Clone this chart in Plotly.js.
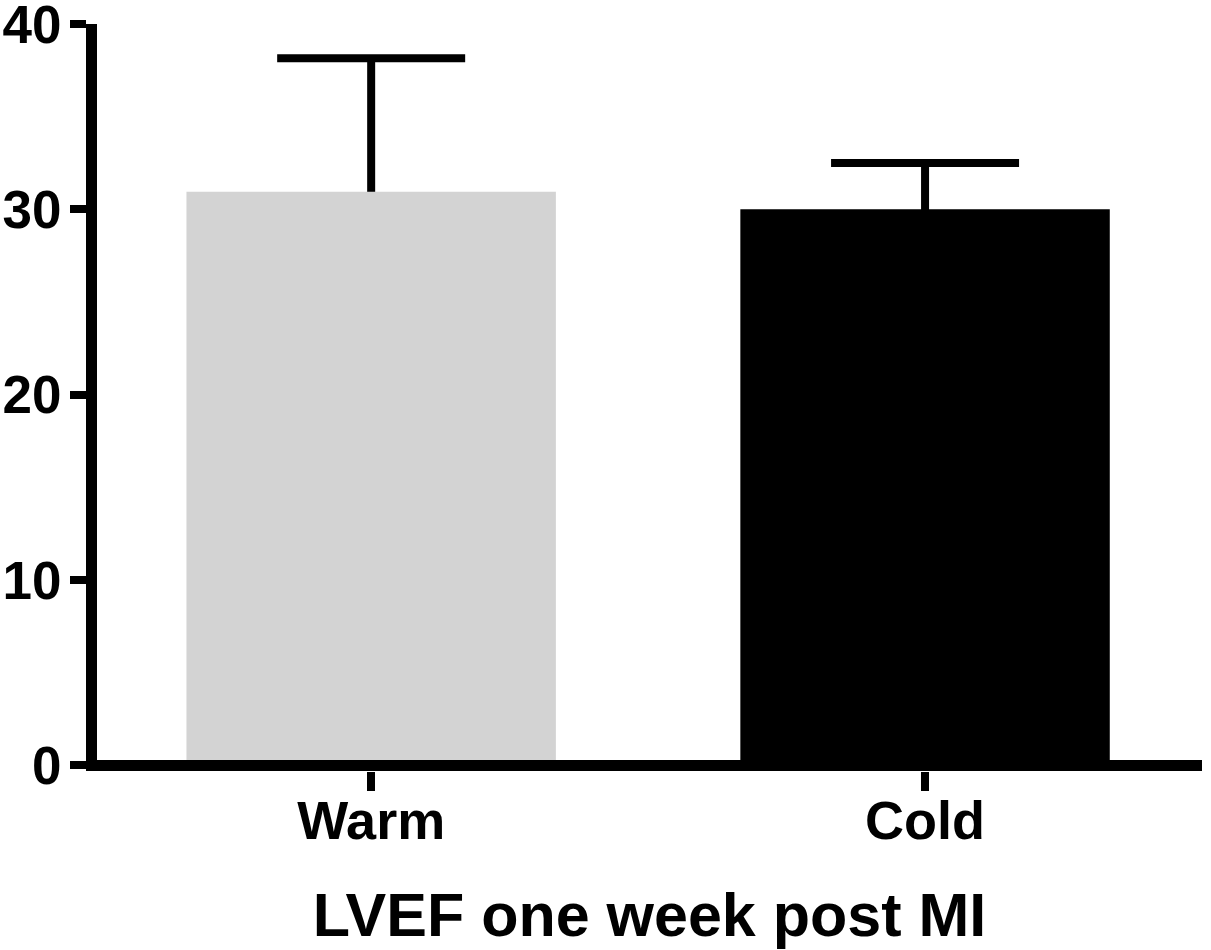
<!DOCTYPE html>
<html>
<head>
<meta charset="utf-8">
<script src="https://cdn.plot.ly/plotly-3.0.1.min.js"></script>
<style>
  body { margin: 0; background: #fff; }
  #plot { width: 1211px; height: 950px; }
</style>
</head>
<body>
<div id="plot"></div>
<script>
// values
var groups = ["Warm", "Cold"];
var lvef = [30.95, 30.0];
var errUp = [7.2, 2.5];
var barColors = ["#d3d3d3", "#000000"];
var yTicks = [0, 10, 20, 30, 40];

var fam = "Liberation Sans, Arial, sans-serif";

// error bars only go up: carry them on a hidden bar and let the real bars
// cover the lower cap
var errTrace = {
  x: groups,
  y: lvef,
  type: "bar",
  width: 0.667,
  marker: {color: "rgba(0,0,0,0)"},
  error_y: {
    type: "data",
    symmetric: false,
    array: errUp,
    arrayminus: [0.4, 0.4],
    color: "#000",
    thickness: 8,
    width: 94
  },
  hoverinfo: "none"
};

var bars = {
  x: groups,
  y: lvef,
  type: "bar",
  width: 0.667,
  marker: {color: barColors, line: {width: 0}},
  hoverinfo: "none"
};

var layout = {
  width: 1211,
  height: 950,
  margin: {l: 97, r: 9, t: 24, b: 179},
  paper_bgcolor: "#fff",
  plot_bgcolor: "#fff",
  showlegend: false,
  barmode: "overlay",
  font: {family: fam, weight: "bold", color: "#000"},
  xaxis: {
    range: [-0.495, 1.5],
    showgrid: false,
    zeroline: false,
    showline: false,
    ticks: "outside",
    ticklen: 19,
    tickwidth: 8,
    tickcolor: "#000",
    ticklabelstandoff: -17,
    tickfont: {family: fam, weight: "bold", size: 54, color: "#000"},
    title: {
      text: "LVEF one week post MI",
      font: {family: fam, weight: "bold", size: 61, color: "#000"},
      standoff: 44
    }
  },
  yaxis: {
    range: [-0.3, 40],
    tickvals: yTicks,
    ticktext: yTicks.map(String),
    showgrid: false,
    // the x axis line sits on y = 0
    zeroline: true,
    zerolinewidth: 11,
    zerolinecolor: "#000",
    zerolinelayer: "above traces",
    showline: true,
    linewidth: 11,
    linecolor: "#000",
    ticks: "outside",
    ticklen: 16,
    tickwidth: 8,
    tickcolor: "#000",
    ticklabelstandoff: -2,
    ticklabeloverflow: "allow",
    tickfont: {family: fam, weight: "bold", size: 53, color: "#000"}
  }
};

Plotly.newPlot("plot", [errTrace, bars], layout, {staticPlot: true});
</script>
</body>
</html>
